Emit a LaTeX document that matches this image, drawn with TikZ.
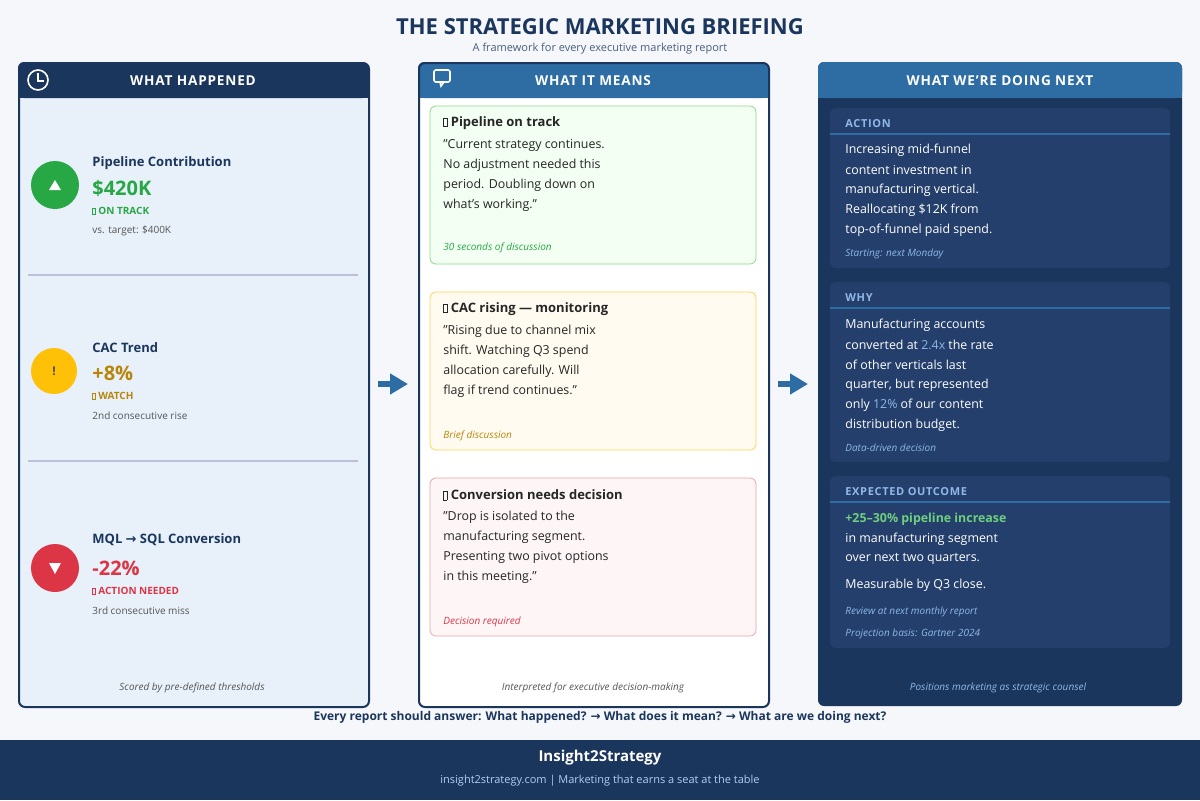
\documentclass[tikz,border=0pt]{standalone}
\usepackage{fontspec}
\setmainfont{Open Sans}
\newfontfamily\symfont{DejaVu Sans}
\usepackage{tikz}
\usetikzlibrary{arrows.meta}
\definecolor{navy}{HTML}{1B365D}
\definecolor{steel}{HTML}{2E6DA4}
\definecolor{paleblue}{HTML}{E8F0F9}
\definecolor{pagebg}{HTML}{F5F7FA}
\definecolor{okgreen}{HTML}{28A745}
\definecolor{amber}{HTML}{FFC107}
\definecolor{amberdk}{HTML}{B8860B}
\definecolor{alertred}{HTML}{DC3545}
\definecolor{cardnavy}{HTML}{243F6B}
\definecolor{skytext}{HTML}{8FB8E8}
\definecolor{mint}{HTML}{6FCF7F}
\definecolor{graytext}{HTML}{555555}
\newcommand{\pxsize}[1]{\fontsize{#1}{#1}\selectfont}
\newcommand{\nog}{{\fboxsep=0pt\fboxrule=0.3pt\fbox{\phantom{\rule{0.22em}{0.62em}}}}}
\newcommand{\rarr}{{\symfont →}}
\newcommand{\qt}{\symbol{34}}

\begin{document}
\begin{tikzpicture}[x=0.5pt,y=-0.5pt]
    \tikzstyle{panel}=[draw=navy,line width=1pt,rounded corners=3pt]
    \tikzstyle{txt}=[anchor=west,inner sep=0pt,text=navy]
    \tikzstyle{ctr}=[anchor=center,inner sep=0pt]
    \tikzstyle{hdr}=[ctr,text=white,font=\pxsize{6.8}\bfseries\addfontfeature{LetterSpace=6}]
    \tikzstyle{foot}=[ctr,font=\pxsize{5}\itshape]
    \tikzstyle{body}=[txt,text=black!85,font=\pxsize{6.2}]
    \tikzstyle{wbody}=[txt,text=white,font=\pxsize{6.2}]
    \tikzstyle{flow}=[line width=3pt,draw=steel,-{Triangle[length=9pt,width=10pt]}]

    % page and footer band
    \fill[pagebg] (0,0) rectangle (1200,740);
    \fill[navy] (0,740) rectangle (1200,800);
    \node[ctr,text=navy,font=\pxsize{11}\bfseries] (title) at (600,27) {THE STRATEGIC MARKETING BRIEFING};
    \node[ctr,text=navy!80,font=\pxsize{5.5}] (subtitle) at (600,49) {A framework for every executive marketing report};

    % left panel
    {
      \fill[paleblue,rounded corners=3pt] (18,62) rectangle (368,706);
      \fill[navy,rounded corners=3pt] (18,62) rectangle (368,98);
      \fill[navy] (18,85) rectangle (368,98);
      \node[panel,minimum width=175pt,minimum height=322pt,anchor=north west] (left) at (18,62) {};
      \node[hdr] (lefthdr) at (193,81) {WHAT HAPPENED};
      \draw[white,line width=0.8pt] (38,80) circle (5pt);
      \draw[white,line width=0.8pt] (38,73) -- (38,81) -- (44,81);

      \fill[okgreen] (55,185) circle (12pt);
      \fill[white] (49,190) -- (61,190) -- (55,180) -- cycle;
      \node[txt,font=\pxsize{6.5}\bfseries] (pc) at (92,163) {Pipeline Contribution};
      \node[txt,text=okgreen,font=\pxsize{10}\bfseries] (pcval) at (92,188) {\$420K};
      \node[txt,text=okgreen,font=\pxsize{5}\bfseries] (pcst) at (92,211) {\nog\ ON TRACK};
      \node[txt,text=graytext,font=\pxsize{5}] (pcnote) at (92,231) {vs. target: \$400K};
      \draw[blue!25!gray!40,line width=1pt] (28,275) -- (358,275);

      \fill[amber] (54,371) circle (11.5pt);
      \node[ctr,text=black!70,font=\pxsize{6}\bfseries] (cacicon) at (54,371) {!};
      \node[txt,font=\pxsize{6.5}\bfseries] (cac) at (92,348) {CAC Trend};
      \node[txt,text=amberdk,font=\pxsize{10}\bfseries] (cacval) at (92,373) {+8\%};
      \node[txt,text=amberdk,font=\pxsize{5}\bfseries] (cacst) at (92,396) {\nog\ WATCH};
      \node[txt,text=graytext,font=\pxsize{5}] (cacnote) at (92,416) {2nd consecutive rise};
      \draw[blue!25!gray!40,line width=1pt] (28,461) -- (358,461);

      \fill[alertred] (55,568) circle (12pt);
      \fill[white] (49,563) -- (61,563) -- (55,574) -- cycle;
      \node[txt,font=\pxsize{6.5}\bfseries] (mql) at (92,540) {MQL \rarr\ SQL Conversion};
      \node[txt,text=alertred,font=\pxsize{10}\bfseries] (mqlval) at (92,568) {-22\%};
      \node[txt,text=alertred,font=\pxsize{5}\bfseries] (mqlst) at (92,591) {\nog\ ACTION NEEDED};
      \node[txt,text=graytext,font=\pxsize{5}] (mqlnote) at (92,611) {3rd consecutive miss};
      \node[foot,text=graytext] (leftfoot) at (192,688) {Scored by pre-defined thresholds};
    }

    % middle panel
    {
      \fill[white,rounded corners=3pt] (418,62) rectangle (768,706);
      \fill[steel,rounded corners=3pt] (418,62) rectangle (768,98);
      \fill[steel] (418,85) rectangle (768,98);
      \node[panel,minimum width=175pt,minimum height=322pt,anchor=north west] (mid) at (418,62) {};
      \node[hdr] (midhdr) at (593,81) {WHAT IT MEANS};
      \draw[white,line width=0.8pt,rounded corners=1pt] (434,70) rectangle (450,82);
      \draw[white,line width=0.8pt] (440,82) -- (441,86) -- (444,82);

      \draw[draw=green!50!gray!60,fill=green!5,rounded corners=3pt] (430,106) rectangle (756,264);
      \node[body,font=\pxsize{6.5}\bfseries] (c1) at (443,123) {\nog\ Pipeline on track};
      \node[body] (c1a) at (443,145) {\qt Current strategy continues.};
      \node[body] (c1b) at (443,165) {No adjustment needed this};
      \node[body] (c1c) at (443,185) {period. Doubling down on};
      \node[body] (c1d) at (443,205) {what's working.\qt};
      \node[txt,text=okgreen,font=\pxsize{5}\itshape] (c1f) at (443,248) {30 seconds of discussion};

      \draw[draw=amber!70,fill=amber!6,rounded corners=3pt] (430,292) rectangle (756,450);
      \node[body,font=\pxsize{6.5}\bfseries] (c2) at (443,309) {\nog\ CAC rising — monitoring};
      \node[body] (c2a) at (443,331) {\qt Rising due to channel mix};
      \node[body] (c2b) at (443,351) {shift. Watching Q3 spend};
      \node[body] (c2c) at (443,371) {allocation carefully. Will};
      \node[body] (c2d) at (443,391) {flag if trend continues.\qt};
      \node[txt,text=amberdk,font=\pxsize{5}\itshape] (c2f) at (443,436) {Brief discussion};

      \draw[draw=alertred!45,fill=alertred!5,rounded corners=3pt] (430,478) rectangle (756,636);
      \node[body,font=\pxsize{6.5}\bfseries] (c3) at (443,495) {\nog\ Conversion needs decision};
      \node[body] (c3a) at (443,517) {\qt Drop is isolated to the};
      \node[body] (c3b) at (443,537) {manufacturing segment.};
      \node[body] (c3c) at (443,557) {Presenting two pivot options};
      \node[body] (c3d) at (443,577) {in this meeting.\qt};
      \node[txt,text=alertred,font=\pxsize{5}\itshape] (c3f) at (443,622) {Decision required};
      \node[foot,text=graytext] (midfoot) at (593,688) {Interpreted for executive decision-making};
    }

    % right panel
    {
      \fill[navy,rounded corners=3pt] (818,62) rectangle (1182,706);
      \fill[steel,rounded corners=3pt] (818,62) rectangle (1182,98);
      \fill[steel] (818,85) rectangle (1182,98);
      \node[minimum width=182pt,minimum height=322pt,anchor=north west,inner sep=0pt] (right) at (818,62) {};
      \node[hdr] (righthdr) at (1000,81) {WHAT WE’RE DOING NEXT};

      \fill[cardnavy,rounded corners=3pt] (830,108) rectangle (1170,268);
      \node[txt,text=skytext,font=\pxsize{5.5}\bfseries\addfontfeature{LetterSpace=6}] (r1) at (845,124) {ACTION};
      \draw[steel,line width=1pt] (830,134) -- (1170,134);
      \node[wbody] (r1a) at (845,150) {Increasing mid-funnel};
      \node[wbody] (r1b) at (845,170) {content investment in};
      \node[wbody] (r1c) at (845,190) {manufacturing vertical.};
      \node[wbody] (r1d) at (845,210) {Reallocating \$12K from};
      \node[wbody] (r1e) at (845,230) {top-of-funnel paid spend.};
      \node[txt,text=skytext,font=\pxsize{5}\itshape] (r1f) at (845,254) {Starting: next Monday};

      \fill[cardnavy,rounded corners=3pt] (830,282) rectangle (1170,462);
      \node[txt,text=skytext,font=\pxsize{5.5}\bfseries\addfontfeature{LetterSpace=6}] (r2) at (845,298) {WHY};
      \draw[steel,line width=1pt] (830,308) -- (1170,308);
      \node[wbody] (r2a) at (845,325) {Manufacturing accounts};
      \node[wbody] (r2b) at (845,345) {converted at \textcolor{skytext}{2.4x} the rate};
      \node[wbody] (r2c) at (845,365) {of other verticals last};
      \node[wbody] (r2d) at (845,385) {quarter, but represented};
      \node[wbody] (r2e) at (845,405) {only \textcolor{skytext}{12\%} of our content};
      \node[wbody] (r2g) at (845,425) {distribution budget.};
      \node[txt,text=skytext,font=\pxsize{5}\itshape] (r2f) at (845,448) {Data-driven decision};

      \fill[cardnavy,rounded corners=3pt] (830,476) rectangle (1170,648);
      \node[txt,text=skytext,font=\pxsize{5.5}\bfseries\addfontfeature{LetterSpace=6}] (r3) at (845,492) {EXPECTED OUTCOME};
      \draw[steel,line width=1pt] (830,502) -- (1170,502);
      \node[txt,text=mint,font=\pxsize{6.2}\bfseries] (r3a) at (845,519) {+25–30\% pipeline increase};
      \node[wbody] (r3b) at (845,539) {in manufacturing segment};
      \node[wbody] (r3c) at (845,559) {over next two quarters.};
      \node[wbody] (r3d) at (845,585) {Measurable by Q3 close.};
      \node[txt,text=skytext,font=\pxsize{5}\itshape] (r3e) at (845,612) {Review at next monthly report};
      \node[txt,text=skytext,font=\pxsize{5}\itshape] (r3f) at (845,634) {Projection basis: Gartner 2024};
      \node[foot,text=skytext] (rightfoot) at (998,688) {Positions marketing as strategic counsel};
    }

    % flow arrows
    \draw[flow,shorten <=4pt,shorten >=5pt] (left.east |- 0,384) -- (mid.west |- 0,384);
    \draw[flow,shorten <=4pt,shorten >=5pt] (mid.east |- 0,384) -- (right.west |- 0,384);

    \node[ctr,text=navy,font=\pxsize{6}\bfseries] (question) at (600,717) {Every report should answer: What happened? \rarr\ What does it mean? \rarr\ What are we doing next?};
    \node[ctr,text=white,font=\pxsize{7.5}\bfseries] (brand) at (600,758) {Insight2Strategy};
    \node[ctr,text=skytext!70!white,font=\pxsize{5.5}] (tagline) at (600,781) {insight2strategy.com | Marketing that earns a seat at the table};
\end{tikzpicture}
\end{document}
